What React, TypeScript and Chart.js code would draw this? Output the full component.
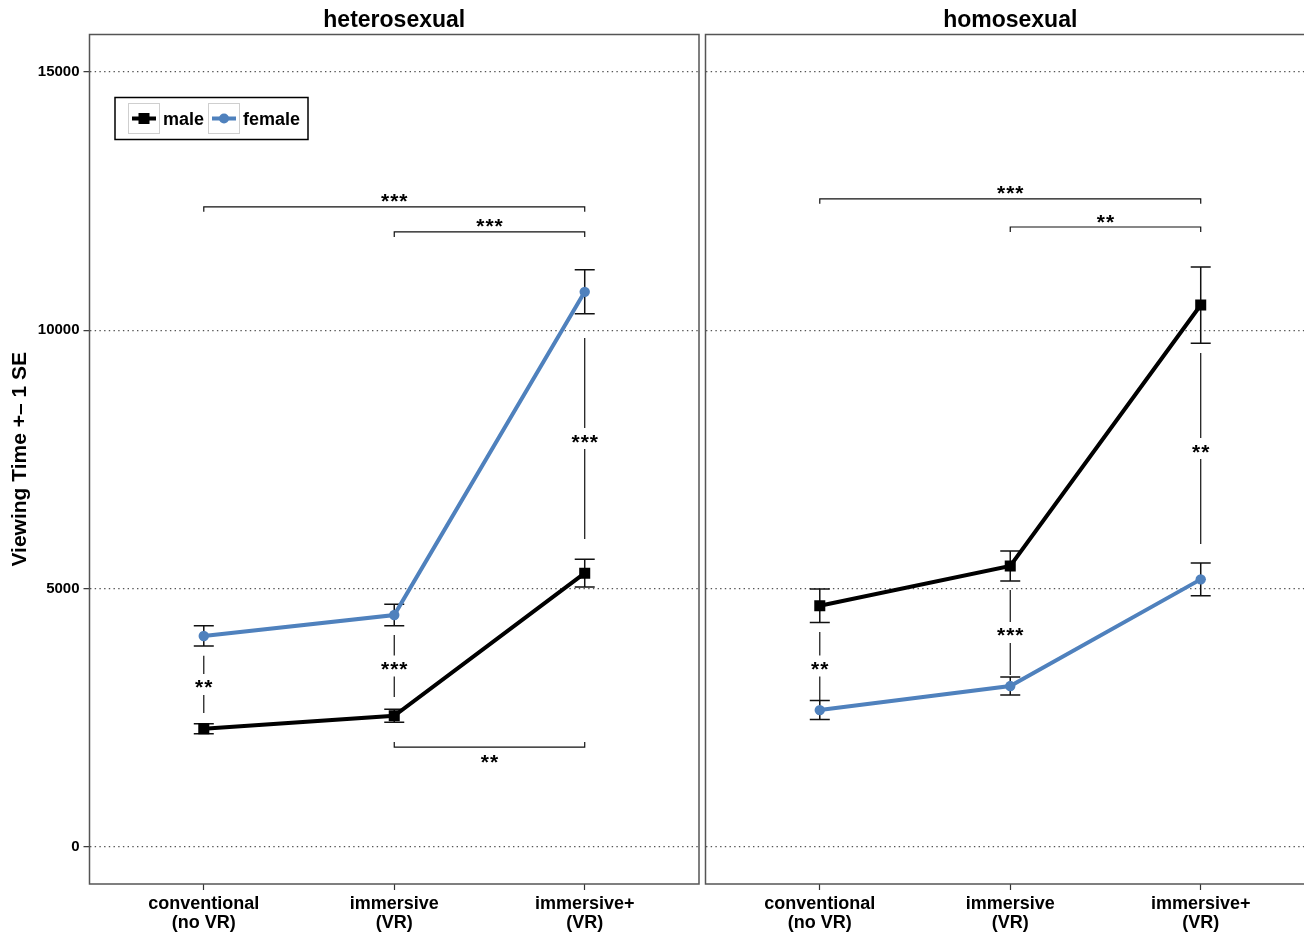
import React, { useEffect, useRef } from "react";
import { Chart, registerables } from "chart.js";

Chart.register(...registerables);

// ---------- data ----------
const panelTitles = ["heterosexual", "homosexual"];
const categoryIndex = [0, 1, 2];
const categoryLabels = [
  ["conventional", "(no VR)"],
  ["immersive", "(VR)"],
  ["immersive+", "(VR)"],
];
const yTicks = [0, 5000, 10000, 15000];
const seriesNames = ["male", "female"];
const yAxisTitle = "Viewing Time +\u2013 1 SE";

const heteroMale = [2290, 2540, 5300];
const heteroMaleSE = [97, 125, 268];
const heteroFemale = [4085, 4490, 10745];
const heteroFemaleSE = [196, 208, 426];

const homoMale = [4670, 5440, 10490];
const homoMaleSE = [326, 290, 738];
const homoFemale = [2650, 3115, 5180];
const homoFemaleSE = [184, 174, 316];

// significance brackets between categories
const heteroBrackets = [
  { from: 0, to: 2, y: 12390, label: "***", side: "above" },
  { from: 1, to: 2, y: 11905, label: "***", side: "above" },
  { from: 1, to: 2, y: 1935, label: "**", side: "below" },
];
const homoBrackets = [
  { from: 0, to: 2, y: 12545, label: "***", side: "above" },
  { from: 1, to: 2, y: 12000, label: "**", side: "above" },
];
// vertical significance lines between groups at one category
const heteroVerticals = [
  { x: 0, top: 3700, bottom: 2595, label: "**" },
  { x: 1, top: 4105, bottom: 2905, label: "***" },
  { x: 2, top: 9850, bottom: 5960, label: "***" },
];
const homoVerticals = [
  { x: 0, top: 4160, bottom: 2845, label: "**" },
  { x: 1, top: 4975, bottom: 3330, label: "***" },
  { x: 2, top: 9560, bottom: 5865, label: "**" },
];

const MALE_COLOR = "#000000";
const FEMALE_COLOR = "#4F81BD";
const FONT = "'Liberation Sans', Arial, Helvetica, sans-serif";

function centeredText(ctx: CanvasRenderingContext2D, text: string, x: number, yc: number) {
  const m = ctx.measureText(text);
  ctx.textAlign = "center";
  ctx.textBaseline = "alphabetic";
  ctx.fillText(text, x, yc + (m.actualBoundingBoxAscent - m.actualBoundingBoxDescent) / 2);
}

type PanelProps = {
  left: number;
  width: number;
  axisWidth: number;
  showY: boolean;
  title: string;
  male: number[];
  maleSE: number[];
  female: number[];
  femaleSE: number[];
  brackets: { from: number; to: number; y: number; label: string; side: string }[];
  verticals: { x: number; top: number; bottom: number; label: string }[];
  legend: boolean;
};

function Panel(p: PanelProps) {
  const ref = useRef<HTMLCanvasElement>(null);
  useEffect(() => {
    const canvas = ref.current!;
    const panelPlugin = {
      id: "panelDeco",
      beforeDatasetsDraw(chart: any) {
        const ctx: CanvasRenderingContext2D = chart.ctx;
        const ca = chart.chartArea;
        const xs = chart.scales.x;
        const ys = chart.scales.y;
        ctx.save();
        // panel border
        ctx.strokeStyle = "#555";
        ctx.lineWidth = 1.5;
        ctx.setLineDash([]);
        ctx.strokeRect(ca.left, ca.top, ca.right - ca.left, ca.bottom - ca.top);

        // error bars
        ctx.strokeStyle = "#111";
        ctx.lineWidth = 1.5;
        const bars = [
          [p.male, p.maleSE],
          [p.female, p.femaleSE],
        ];
        bars.forEach(([vals, se]) => {
          categoryIndex.forEach((ci, i) => {
            const x = xs.getPixelForValue(ci);
            const y1 = ys.getPixelForValue(vals[i] + se[i]);
            const y2 = ys.getPixelForValue(vals[i] - se[i]);
            ctx.beginPath();
            ctx.moveTo(x, y1);
            ctx.lineTo(x, y2);
            ctx.moveTo(x - 10, y1);
            ctx.lineTo(x + 10, y1);
            ctx.moveTo(x - 10, y2);
            ctx.lineTo(x + 10, y2);
            ctx.stroke();
          });
        });

        // brackets
        ctx.fillStyle = "#000";
        ctx.strokeStyle = "#111";
        ctx.lineWidth = 1.2;
        ctx.font = `bold 21px ${FONT}`;
        (ctx as any).letterSpacing = "1px";
        p.brackets.forEach((b) => {
          const x1 = xs.getPixelForValue(b.from);
          const x2 = xs.getPixelForValue(b.to);
          const y = ys.getPixelForValue(b.y);
          const d = b.side === "above" ? 5 : -5;
          ctx.beginPath();
          ctx.moveTo(x1, y + d);
          ctx.lineTo(x1, y);
          ctx.lineTo(x2, y);
          ctx.lineTo(x2, y + d);
          ctx.stroke();
          const ty = b.side === "above" ? y - 8.5 : y + 12;
          centeredText(ctx, b.label, (x1 + x2) / 2 + 0.5, ty);
        });

        // vertical comparisons
        p.verticals.forEach((v) => {
          const x = xs.getPixelForValue(v.x);
          const yt = ys.getPixelForValue(v.top);
          const yb = ys.getPixelForValue(v.bottom);
          const mid = (yt + yb) / 2;
          ctx.beginPath();
          ctx.moveTo(x, yt);
          ctx.lineTo(x, mid - 10.5);
          ctx.moveTo(x, mid + 10.5);
          ctx.lineTo(x, yb);
          ctx.stroke();
          centeredText(ctx, v.label, x + 0.5, mid);
        });
        (ctx as any).letterSpacing = "0px";
        ctx.restore();
      },
      afterDraw(chart: any) {
        const ctx: CanvasRenderingContext2D = chart.ctx;
        const ca = chart.chartArea;
        ctx.save();
        // strip title
        ctx.fillStyle = "#000";
        ctx.font = `bold 23px ${FONT}`;
        ctx.textAlign = "center";
        ctx.textBaseline = "alphabetic";
        ctx.fillText(p.title, (ca.left + ca.right) / 2, 27);

        if (p.showY) {
          ctx.save();
          ctx.translate(20, (ca.top + ca.bottom) / 2);
          ctx.rotate(-Math.PI / 2);
          ctx.font = `bold 21px ${FONT}`;
          ctx.textAlign = "center";
          ctx.textBaseline = "middle";
          ctx.fillText(yAxisTitle, 0, 0);
          ctx.restore();
        }

        if (p.legend) {
          ctx.setLineDash([]);
          ctx.strokeStyle = "#000";
          ctx.lineWidth = 1.5;
          ctx.fillStyle = "#fff";
          ctx.fillRect(115, 97.5, 193, 42);
          ctx.strokeRect(115, 97.5, 193, 42);
          const keys = [
            { bx: 128.5, tx: 163, color: MALE_COLOR, shape: "rect", name: seriesNames[0] },
            { bx: 208.5, tx: 243, color: FEMALE_COLOR, shape: "circle", name: seriesNames[1] },
          ];
          keys.forEach((k) => {
            ctx.strokeStyle = "#cfcfcf";
            ctx.lineWidth = 1;
            ctx.strokeRect(k.bx, 103.5, 31, 30);
            const cy = 118.5;
            const cx = k.bx + 15.5;
            ctx.strokeStyle = k.color;
            ctx.fillStyle = k.color;
            ctx.lineWidth = 4;
            ctx.beginPath();
            ctx.moveTo(k.bx + 3.5, cy);
            ctx.lineTo(k.bx + 27.5, cy);
            ctx.stroke();
            if (k.shape === "rect") {
              ctx.fillRect(cx - 5.5, cy - 5.5, 11, 11);
            } else {
              ctx.beginPath();
              ctx.arc(cx, cy, 5, 0, Math.PI * 2);
              ctx.fill();
            }
            ctx.fillStyle = "#000";
            ctx.font = `bold 18px ${FONT}`;
            ctx.textAlign = "left";
            ctx.textBaseline = "alphabetic";
            ctx.fillText(k.name, k.tx, 125);
          });
        }
        ctx.restore();
      },
    };

    const chart = new Chart(canvas, {
      type: "scatter",
      data: {
        datasets: [
          {
            label: seriesNames[0],
            data: categoryIndex.map((x, i) => ({ x, y: p.male[i] })),
            showLine: true,
            borderColor: MALE_COLOR,
            backgroundColor: MALE_COLOR,
            borderWidth: 4,
            pointStyle: "rect",
            pointRadius: 7.8,
            pointBorderWidth: 0,
          },
          {
            label: seriesNames[1],
            data: categoryIndex.map((x, i) => ({ x, y: p.female[i] })),
            showLine: true,
            borderColor: FEMALE_COLOR,
            backgroundColor: FEMALE_COLOR,
            borderWidth: 4,
            pointStyle: "circle",
            pointRadius: 5.2,
            pointBorderWidth: 0,
          },
        ],
      },
      options: {
        responsive: false,
        animation: false,
        events: [],
        layout: { autoPadding: false, padding: { top: 34.5, right: 3, left: 0, bottom: 0 } },
        plugins: {
          legend: { display: false },
          tooltip: { enabled: false },
          title: { display: false },
        },
        scales: {
          x: {
            type: "linear",
            min: -0.6,
            max: 2.6,
            afterBuildTicks: (s: any) => {
              s.ticks = categoryIndex.map((v) => ({ value: v }));
            },
            afterFit: (s: any) => {
              s.height = 50;
              s.paddingLeft = 0;
              s.paddingRight = 0;
            },
            grid: {
              drawOnChartArea: false,
              drawTicks: true,
              tickLength: 6,
              tickColor: "#333",
              tickWidth: 1.2,
              tickBorderDash: [],
            },
            border: { display: false },
            ticks: {
              callback: (v: any) => categoryLabels[v as number],
              font: { family: FONT, size: 18, weight: "bold", lineHeight: 1.06 },
              color: "#000",
              padding: 4,
              maxRotation: 0,
              autoSkip: false,
            },
          },
          y: {
            type: "linear",
            min: -716,
            max: 15726,
            afterBuildTicks: (s: any) => {
              s.ticks = yTicks.map((v) => ({ value: v }));
            },
            afterFit: (s: any) => {
              s.width = p.axisWidth;
              s.paddingTop = 0;
              s.paddingBottom = 0;
            },
            grid: {
              color: "#555",
              lineWidth: 1.3,
              drawOnChartArea: true,
              drawTicks: p.showY,
              tickLength: 6,
              tickColor: "#333",
              tickWidth: 1.2,
              tickBorderDash: [],
            },
            border: { display: false, dash: [1.4, 3.3] },
            ticks: {
              display: p.showY,
              font: { family: FONT, size: 15, weight: "bold" },
              color: "#000",
              padding: 4,
              callback: (v: any) => String(v),
            },
          },
        },
      },
      plugins: [panelPlugin],
    } as any);
    return () => chart.destroy();
  }, []);
  return (
    <canvas
      ref={ref}
      width={p.width}
      height={934}
      style={{ position: "absolute", left: p.left, top: 0, width: p.width, height: 934, display: "block" }}
    />
  );
}

export default function App() {
  return (
    <div
      style={{
        position: "fixed",
        left: 0,
        top: 0,
        width: 1304,
        height: 934,
        overflow: "hidden",
        background: "#fff",
      }}
    >
      <Panel
        left={0}
        width={702}
        axisWidth={89.5}
        showY={true}
        title={panelTitles[0]}
        male={heteroMale}
        maleSE={heteroMaleSE}
        female={heteroFemale}
        femaleSE={heteroFemaleSE}
        brackets={heteroBrackets}
        verticals={heteroVerticals}
        legend={true}
      />
      <Panel
        left={702}
        width={616}
        axisWidth={3.5}
        showY={false}
        title={panelTitles[1]}
        male={homoMale}
        maleSE={homoMaleSE}
        female={homoFemale}
        femaleSE={homoFemaleSE}
        brackets={homoBrackets}
        verticals={homoVerticals}
        legend={false}
      />
    </div>
  );
}
